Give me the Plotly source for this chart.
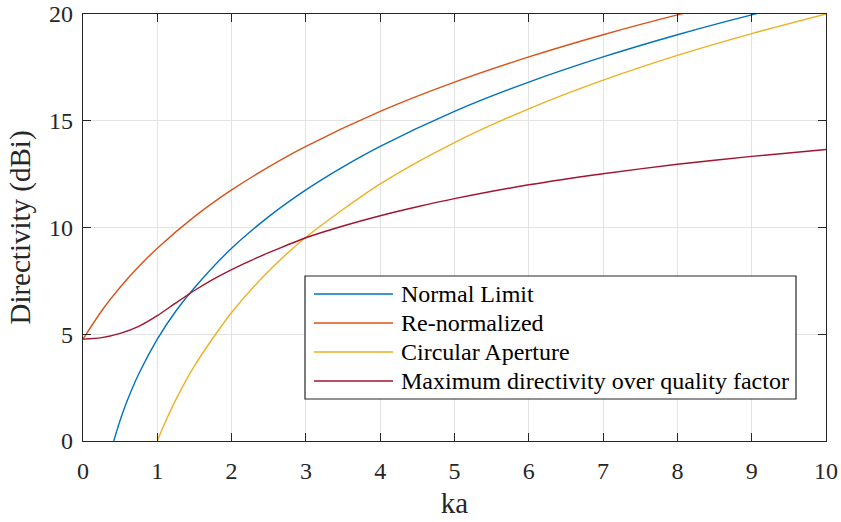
import plotly.graph_objects as go

# ka samples and directivity (dBi) for each bound
ka_normal = [0.414, 0.45, 0.5, 0.6, 0.75, 1.0, 1.25, 1.5, 2.0, 2.5, 3.0, 3.5, 4.0, 5.0, 6.0, 7.0, 8.0, 9.0, 10.0]
d_normal = [0.0, 0.42, 0.97, 1.93, 3.14, 4.77, 6.09, 7.18, 9.03, 10.51, 11.76, 12.84, 13.80, 15.44, 16.81, 17.99, 19.03, 19.96, 20.79]

ka_renorm = [0.0, 0.25, 0.5, 0.75, 1.0, 1.5, 2.0, 2.5, 3.0, 4.0, 5.0, 6.0, 7.0, 8.0, 9.0]
d_renorm = [4.77, 6.09, 7.20, 8.17, 9.03, 10.51, 11.76, 12.84, 13.80, 15.44, 16.81, 17.99, 19.03, 19.96, 20.79]

ka_circ = [1.0, 1.1, 1.25, 1.5, 2.0, 2.5, 3.0, 4.0, 5.0, 6.0, 7.0, 8.0, 9.0, 10.0]
d_circ = [0.0, 0.83, 1.94, 3.52, 6.02, 7.96, 9.54, 12.04, 13.98, 15.56, 16.90, 18.06, 19.08, 20.0]

ka_dq = [0.0, 0.25, 0.5, 0.75, 1.0, 1.25, 1.5, 1.75, 2.0, 2.25, 2.5, 2.75, 3.0,
         3.5, 4.0, 4.5, 5.0, 6.0, 7.0, 8.0, 9.0, 10.0]
d_dq = [4.77, 4.84, 5.04, 5.37, 5.87, 6.47, 7.05, 7.57, 8.03, 8.44, 8.82, 9.18, 9.52,
        10.07, 10.55, 10.97, 11.35, 12.00, 12.52, 12.96, 13.33, 13.65]

names = ["Normal Limit", "Re-normalized", "Circular Aperture",
         "Maximum directivity over quality factor"]
colors = ["#0072BD", "#D95319", "#EDB120", "#A2142F"]

x_ticks = list(range(0, 11))
y_ticks = [0, 5, 10, 15, 20]

FONT = "Liberation Serif, Times New Roman, serif"
AX = "#262626"

fig = go.Figure()
series = [(ka_normal, d_normal), (ka_renorm, d_renorm), (ka_circ, d_circ), (ka_dq, d_dq)]
for (xs, ys), name, c in zip(series, names, colors):
    fig.add_trace(go.Scatter(
        x=xs, y=ys, mode="lines", name=name, showlegend=False,
        line=dict(color=c, width=1.4, shape="spline", smoothing=0.8),
    ))

W, H = 841, 522
L, R, T, B = 83, 15, 14, 81
pw, ph = W - L - R, H - T - B

def px(xp):
    return (xp - L) / pw

def py(yp):
    return 1 - (yp - T) / ph

# boxed legend drawn in paper coordinates
shapes = [dict(type="rect", xref="paper", yref="paper",
               x0=px(305), x1=px(796), y0=py(399), y1=py(276),
               line=dict(color=AX, width=1.2), fillcolor="white", layer="above")]
annotations = []
row_y = [294, 323, 352, 381]
for yy, name, c in zip(row_y, names, colors):
    shapes.append(dict(type="line", xref="paper", yref="paper",
                       x0=px(314), x1=px(393), y0=py(yy), y1=py(yy),
                       line=dict(color=c, width=1.4), layer="above"))
    annotations.append(dict(xref="paper", yref="paper", x=px(399), y=py(yy),
                            xanchor="left", yanchor="middle", showarrow=False,
                            text=name, font=dict(family=FONT, size=24, color="black")))

axis_common = dict(
    showline=True, linecolor=AX, linewidth=1.2, mirror="allticks",
    ticks="inside", ticklen=8, tickcolor=AX, tickwidth=1.2,
    showgrid=True, gridcolor="#e3e3e3", gridwidth=1,
    zeroline=False, tickfont=dict(family=FONT, size=24, color=AX),
    automargin=False,
)

fig.update_layout(
    width=W, height=H,
    margin=dict(l=L, r=R, t=T, b=B),
    paper_bgcolor="white", plot_bgcolor="white",
    showlegend=False,
    xaxis=dict(range=[0, 10], tickvals=x_ticks, ticktext=[str(v) for v in x_ticks],
               ticklabelstandoff=8,
               title=dict(text="ka", font=dict(family=FONT, size=29, color=AX), standoff=9),
               **axis_common),
    yaxis=dict(range=[0, 20], tickvals=y_ticks, ticktext=[str(v) for v in y_ticks],
               ticklabelstandoff=4,
               title=dict(text="Directivity (dBi)", font=dict(family=FONT, size=29, color=AX), standoff=9),
               **axis_common),
    shapes=shapes,
    annotations=annotations,
)

fig.write_html("out.html")
